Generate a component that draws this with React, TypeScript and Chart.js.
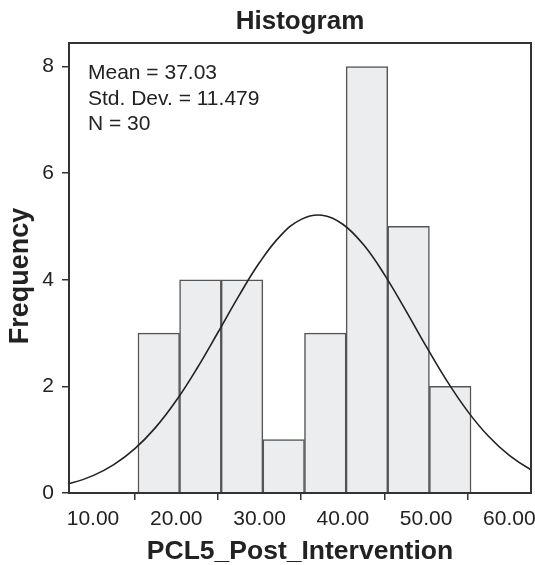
import React, { useEffect, useRef } from "react";
import { Chart, registerables } from "chart.js";

Chart.register(...registerables);

// ---- data ----
const binCenters = [17.9, 22.9, 27.9, 32.9, 37.9, 42.9, 47.9, 52.9];
const frequencies = [3, 4, 4, 1, 3, 8, 5, 2];
const curveX = [5, 7.5, 10, 12.5, 15, 17.5, 20, 22.5, 25, 27.5, 30, 32.5, 35, 37.5, 40, 42.5, 45, 47.5, 50, 52.5, 55, 57.5, 60, 62.5, 65];
const curveY = [0.106, 0.191, 0.326, 0.532, 0.827, 1.226, 1.734, 2.34, 3.01, 3.693, 4.322, 4.823, 5.132, 5.209, 5.041, 4.654, 4.097, 3.439, 2.753, 2.102, 1.531, 1.063, 0.704, 0.445, 0.268];
const xTicks = [10, 20, 30, 40, 50, 60];
const yTicks = [0, 2, 4, 6, 8];
const xRange = [7.12, 62.6];
const yRange = [0, 8.44];
const statsLines = ["Mean = 37.03", "Std. Dev. = 11.479", "N = 30"];
const titleText = "Histogram";
const xTitle = "PCL5_Post_Intervention";
const yTitle = "Frequency";

const FONT = "'Liberation Sans', Arial, Helvetica, sans-serif";
const INK = "#222222";
const FRAME = "#333333";

const framePlugin = {
  id: "frameAndStats",
  afterDatasetsDraw(chart: any) {
    const { ctx, chartArea } = chart;
    const { left, right, top, bottom } = chartArea;
    ctx.save();
    ctx.strokeStyle = FRAME;
    ctx.lineWidth = 2;
    ctx.strokeRect(left, top, right - left, bottom - top);
    ctx.fillStyle = INK;
    ctx.font = `21px ${FONT}`;
    ctx.textAlign = "left";
    ctx.textBaseline = "alphabetic";
    statsLines.forEach((line, i) => {
      ctx.fillText(line, left + 19, top + 36 + i * 25.5);
    });
    ctx.restore();
  },
  afterDraw(chart: any) {
    const { ctx, chartArea } = chart;
    ctx.save();
    ctx.fillStyle = INK;
    ctx.font = `bold 27px ${FONT}`;
    ctx.textAlign = "center";
    ctx.textBaseline = "alphabetic";
    ctx.translate(28, (chartArea.top + chartArea.bottom) / 2 + 8);
    ctx.rotate(-Math.PI / 2);
    ctx.fillText(yTitle, 0, 0);
    ctx.restore();
  },
};

export default function App() {
  const canvasRef = useRef<HTMLCanvasElement | null>(null);

  useEffect(() => {
    const canvas = canvasRef.current;
    if (!canvas) return;
    const chart = new Chart(canvas, {
      type: "bar",
      data: {
        datasets: [
          {
            type: "line",
            label: "Normal",
            data: curveX.map((x, i) => ({ x, y: curveY[i] })),
            borderColor: INK,
            borderWidth: 1.6,
            pointRadius: 0,
            tension: 0.4,
            fill: false,
            order: 0,
          } as any,
          {
            type: "bar",
            label: "Frequency",
            data: binCenters.map((x, i) => ({ x, y: frequencies[i] })),
            backgroundColor: "#ebedef",
            borderColor: "#555555",
            borderWidth: 1.5,
            barPercentage: 1,
            categoryPercentage: 1,
            order: 1,
          } as any,
        ],
      },
      options: {
        animation: false,
        responsive: false,
        devicePixelRatio: 1,
        layout: { padding: { left: 0, right: 4, top: 0, bottom: 0 } },
        plugins: {
          legend: { display: false },
          tooltip: { enabled: false },
          title: {
            display: true,
            text: titleText,
            fullSize: false,
            color: INK,
            font: { family: FONT, size: 26, weight: "bold", lineHeight: 1.2 },
            padding: { top: 6.4, bottom: 5.4 },
          },
        },
        scales: {
          x: {
            type: "linear",
            offset: false,
            min: xRange[0],
            max: xRange[1],
            afterBuildTicks: (s: any) => {
              s.ticks = xTicks.map((v) => ({ value: v }));
            },
            afterFit: (s: any) => {
              s.height = 72;
              s.paddingLeft = 0;
              s.paddingRight = 0;
            },
            ticks: {
              color: INK,
              font: { family: FONT, size: 21, lineHeight: 1.2 },
              padding: 7,
              maxRotation: 0,
              autoSkip: false,
              callback: (v: any) => Number(v).toFixed(2),
            },
            grid: {
              display: true,
              drawOnChartArea: false,
              drawTicks: true,
              tickLength: 7,
              color: FRAME,
              lineWidth: 1.5,
            },
            border: { display: true, color: FRAME, width: 2 },
            title: {
              display: true,
              text: xTitle,
              color: INK,
              font: { family: FONT, size: 26.5, weight: "bold", lineHeight: 1 },
              padding: { top: 0, bottom: 0 },
            },
          },
          y: {
            type: "linear",
            min: yRange[0],
            max: yRange[1],
            afterBuildTicks: (s: any) => {
              s.ticks = yTicks.map((v) => ({ value: v }));
            },
            afterFit: (s: any) => {
              s.width = 69;
              s.paddingTop = 0;
              s.paddingBottom = 0;
            },
            ticks: {
              color: INK,
              font: { family: FONT, size: 21, lineHeight: 1.2 },
              padding: 8,
              callback: (v: any) => String(v),
            },
            grid: {
              display: true,
              drawOnChartArea: false,
              drawTicks: true,
              tickLength: 7,
              color: FRAME,
              lineWidth: 1.5,
            },
            border: { display: true, color: FRAME, width: 2 },
            title: { display: false, text: yTitle },
          },
        },
      },
      plugins: [framePlugin],
    });
    return () => chart.destroy();
  }, []);

  return (
    <div style={{ position: "fixed", left: 0, top: 0, width: 535, height: 565, background: "#ffffff" }}>
      <canvas ref={canvasRef} width={535} height={565} style={{ display: "block" }} />
    </div>
  );
}
